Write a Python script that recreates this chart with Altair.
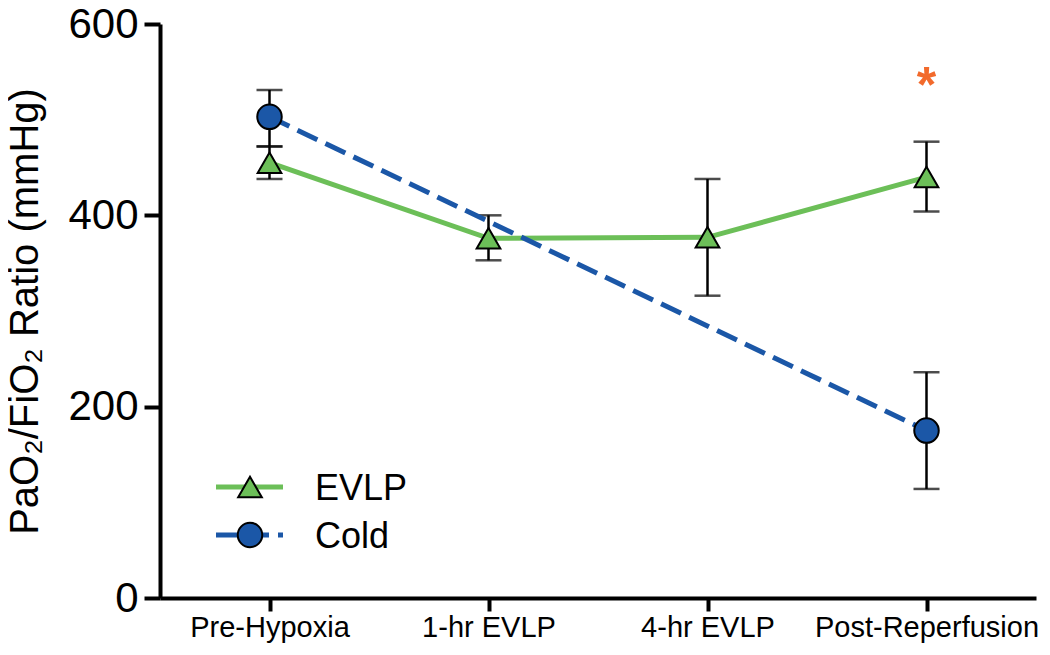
import altair as alt
import pandas as pd

# ---- data ----
stages = ["Pre-Hypoxia", "1-hr EVLP", "4-hr EVLP", "Post-Reperfusion"]
evlp_mean = [455, 376, 377, 440]
evlp_lo = [438, 353, 316, 404]
evlp_hi = [472, 400, 438, 477]
cold_stages = ["Pre-Hypoxia", "Post-Reperfusion"]
cold_mean = [503, 175]
cold_lo = [472, 114]
cold_hi = [531, 236]
series_names = ["EVLP", "Cold"]
y_ticks = [0, 200, 400, 600]
sig_stages = ["Post-Reperfusion"]
sig_values = [548]

GREEN = "#6CBF58"
BLUE = "#1B57A7"
ORANGE = "#F26A2C"
FONT = "Liberation Sans"

evlp_df = pd.DataFrame({"stage": stages, "series": series_names[0],
                        "mean": evlp_mean, "lo": evlp_lo, "hi": evlp_hi})
cold_df = pd.DataFrame({"stage": cold_stages, "series": series_names[1],
                        "mean": cold_mean, "lo": cold_lo, "hi": cold_hi})
df = pd.concat([evlp_df, cold_df], ignore_index=True)
sig_df = pd.DataFrame({"stage": sig_stages, "value": sig_values})

x_enc = alt.X("stage:N", sort=stages,
              scale=alt.Scale(type="point", domain=stages, padding=0.5),
              axis=alt.Axis(title=None, labelAngle=0, labelFontSize=29,
                            labelPadding=2, tickSize=13, labelOverlap=False,
                            labelBound=False, labelLimit=0))
y_scale = alt.Scale(domain=[0, 600], nice=False, zero=True)
y_axis = alt.Axis(values=y_ticks, title="PaO₂/FiO₂ Ratio (mmHg)",
                  titleFontSize=40, titleFontWeight="normal", titlePadding=22,
                  labelFontSize=42, labelPadding=6, tickSize=16,
                  grid=False, labelOverlap=False)

base = alt.Chart(df).encode(x=x_enc)

err_rule = base.mark_rule(color="black", strokeWidth=2.5).encode(
    y=alt.Y("lo:Q", scale=y_scale, axis=y_axis), y2="hi:Q")
cap_lo = base.mark_tick(color="black", thickness=2.5, size=26).encode(
    y=alt.Y("lo:Q", scale=y_scale))
cap_hi = base.mark_tick(color="black", thickness=2.5, size=26).encode(
    y=alt.Y("hi:Q", scale=y_scale))

line_evlp = base.transform_filter(alt.datum.series == "EVLP").mark_line(
    color=GREEN, strokeWidth=5).encode(y=alt.Y("mean:Q", scale=y_scale))
line_cold = base.transform_filter(alt.datum.series == "Cold").mark_line(
    color=BLUE, strokeWidth=5, strokeDash=[22, 9]).encode(
    y=alt.Y("mean:Q", scale=y_scale))

pt_evlp = base.transform_filter(alt.datum.series == "EVLP").mark_point(
    shape="triangle-up", filled=True, fill=GREEN, stroke="black",
    strokeWidth=2, size=560, opacity=1).encode(y=alt.Y("mean:Q", scale=y_scale))
pt_cold = base.transform_filter(alt.datum.series == "Cold").mark_point(
    shape="circle", filled=True, fill=BLUE, stroke="black",
    strokeWidth=2, size=600, opacity=1).encode(y=alt.Y("mean:Q", scale=y_scale))

sig = alt.Chart(sig_df).mark_text(
    text="*", font=FONT, fontSize=50, fontWeight="bold", color=ORANGE,
    baseline="alphabetic", dy=28).encode(
    x=alt.X("stage:N", sort=stages), y=alt.Y("value:Q", scale=y_scale))


def legend_item(name, color, dash, shape, size, ypix):
    d = pd.DataFrame({"series": [name]})
    c = alt.Chart(d)
    rule_kw = dict(color=color, strokeWidth=5)
    if dash:
        rule_kw["strokeDash"] = dash
    r = c.mark_rule(**rule_kw).encode(
        x=alt.value(56), x2=alt.value(123), y=alt.value(ypix))
    p = c.mark_point(shape=shape, filled=True, fill=color, stroke="black",
                     strokeWidth=2, size=size, opacity=1).encode(
        x=alt.value(90), y=alt.value(ypix))
    t = c.mark_text(font=FONT, fontSize=36, align="left", baseline="alphabetic",
                    dy=13, color="black").encode(
        x=alt.value(155), y=alt.value(ypix), text="series:N")
    return [r, p, t]


legend_layers = (legend_item("EVLP", GREEN, None, "triangle-up", 560, 463)
                 + legend_item("Cold", BLUE, [22, 9], "circle", 600, 511))

chart = alt.layer(
    err_rule, cap_lo, cap_hi, line_evlp, line_cold, pt_evlp, pt_cold, sig,
    *legend_layers
).properties(
    width=876, height=574,
    padding={"left": 152, "top": 16, "right": 6, "bottom": 49},
    autosize=alt.AutoSizeParams(type="none"),
).configure_view(stroke=None).configure_axis(
    labelFont=FONT, titleFont=FONT, labelColor="black", titleColor="black",
    domainColor="black", domainWidth=4, tickColor="black", tickWidth=4,
)

chart.save("out.html", embed_options={"renderer": "svg", "actions": False})
